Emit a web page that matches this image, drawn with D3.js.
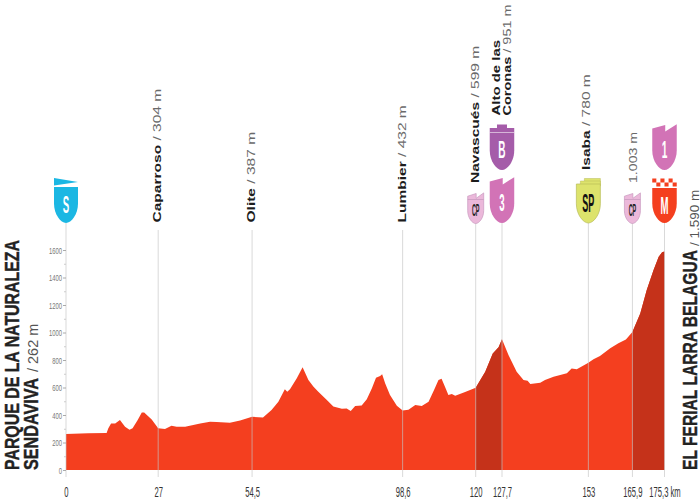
<!DOCTYPE html>
<html>
<head>
<meta charset="utf-8">
<script src="https://cdn.jsdelivr.net/npm/d3@7"></script>
<style>
  body { margin: 0; background: #fff; }
  svg { display: block; }
  text { font-family: "Liberation Sans", sans-serif; }
</style>
</head>
<body>
<svg id="chart" width="700" height="500"></svg>
<script>
// profile
var profileKm = [0, 6.5, 11.9, 12.4, 13.2, 14.4, 15.8, 17.3, 18.6, 19.5, 21, 22.2, 22.9, 25.1, 27, 29, 30.9, 32.4, 34.9, 39.3, 42.2, 44.1, 48, 51, 54.5, 57.7, 60.2, 62.2, 64.1, 64.8, 65.6, 67.6, 69.3, 71, 72.5, 73.9, 76.4, 78.3, 80.8, 82.2, 83.4, 84.7, 86.6, 88.1, 89.6, 90.8, 92, 92.6, 93.5, 94.9, 96.9, 98.6, 100.3, 102.3, 104.2, 106.2, 107.8, 109.1, 110, 111, 112, 113, 114, 116.9, 120, 122.8, 125, 126.7, 127.7, 129.6, 132, 134, 135.2, 136, 138.9, 140.3, 142.8, 146.7, 148.1, 149.6, 153, 154.5, 156.4, 159.4, 161.8, 164, 165.9, 168.2, 170.1, 172.1, 173.6, 174.6, 175.3];
var profileElev = [262, 267, 269, 303, 339, 339, 364, 315, 293, 303, 364, 419, 419, 368, 304, 298, 322, 315, 315, 339, 351, 349, 344, 360, 387, 381, 436, 497, 587, 570, 587, 667, 747, 654, 606, 570, 509, 461, 446, 448, 429, 465, 470, 514, 594, 671, 684, 696, 630, 545, 468, 432, 439, 473, 465, 497, 582, 654, 664, 606, 545, 553, 540, 567, 599, 715, 848, 892, 951, 836, 715, 654, 650, 625, 635, 654, 679, 703, 739, 732, 780, 805, 829, 885, 921, 950, 1003, 1139, 1309, 1454, 1551, 1583, 1590];

var yTicks = [0, 200, 400, 600, 800, 1000, 1200, 1400, 1600];
var yMinorTicks = [100, 300, 500, 700, 900, 1100, 1300, 1500];
var kmTicks = [0, 27, 54.5, 98.6, 120, 127.7, 153, 165.9, 175.3];
var kmLabels = ["0", "27", "54,5", "98,6", "120", "127,7", "153", "165,9", "175,3 km"];
var climbs = [[120, 127.7], [165.9, 175.3]];

var placeKm = [27, 54.5, 98.6, 120, 153];
var placeNames = ["Caparroso", "Olite", "Lumbier", "Navascués", "Isaba"];
var placeAlts = ["304 m", "387 m", "432 m", "599 m", "780 m"];

var svg = d3.select("#chart");
var x = d3.scaleLinear().domain([0, 175.3]).range([66, 664.5]);
var y = d3.scaleLinear().domain([0, 1600]).range([470, 250]);

var red = "#f43f1f", dark = "#c5321a", pinkCat = "#d273b6", pinkCp = "#ebb8da", purple = "#a55ca9", lime = "#dde36c";

var area = d3.area()
    .x(function(d, i) { return x(profileKm[i]); })
    .y0(y(0))
    .y1(function(d) { return y(d); });

svg.append("clipPath").attr("id", "profile-clip")
    .append("path").attr("d", area(profileElev));

// the red profile
svg.append("path").attr("d", area(profileElev)).attr("fill", red);

// darker climb sections
svg.append("g").attr("clip-path", "url(#profile-clip)")
  .selectAll("rect").data(climbs).enter().append("rect")
    .attr("x", function(d) { return x(d[0]); })
    .attr("width", function(d) { return x(d[1]) - x(d[0]); })
    .attr("y", 240).attr("height", 230)
    .attr("fill", dark);

// vertical guide lines, the ones without a badge start a bit lower
svg.append("g").selectAll("line").data(kmTicks).enter().append("line")
    .attr("x1", function(d) { return x(d); })
    .attr("x2", function(d) { return x(d); })
    .attr("y1", function(d) { return (d == 27 || d == 54.5 || d == 98.6) ? 230 : 223; })
    .attr("y2", 477)
    .attr("stroke", "#c4c4c4").attr("stroke-opacity", 0.65).attr("stroke-width", 1);

// y axis
var yAxis = svg.append("g").attr("transform", "translate(66,0)")
    .call(d3.axisLeft(y).tickValues(yTicks).tickSize(3).tickFormat(d3.format("d")));
yAxis.select(".domain").remove();
yAxis.selectAll("line").attr("stroke", "#aaa");
yAxis.selectAll("text")
    .attr("x", 0).attr("dy", "0.34em")
    .attr("transform", "translate(-4,0) scale(0.62,1)")
    .attr("font-size", 9.5).attr("fill", "#777");
svg.append("g").attr("transform", "translate(66,0)")
    .call(d3.axisLeft(y).tickValues(yMinorTicks).tickSize(2).tickFormat(""))
    .call(function(g) { g.select(".domain").remove(); })
    .selectAll("line").attr("stroke", "#ccc");

// x axis labels
var xAxis = svg.append("g").attr("transform", "translate(0,470)")
    .call(d3.axisBottom(x).tickValues(kmTicks).tickSize(0)
        .tickFormat(function(d, i) { return kmLabels[i]; }));
xAxis.select(".domain").remove();
xAxis.selectAll("text")
    .attr("y", 0).attr("dy", 0)
    .attr("transform", "translate(0,26.5) scale(0.51,1)")
    .attr("font-size", 15).attr("fill", "#333");

// vertical label, bold name then grey altitude, stretched sideways like the original type
function vlabel(px, py, name, alt, stretch) {
  var t = svg.append("text")
      .attr("transform", "translate(" + px + "," + py + ") rotate(-90) scale(" + (stretch || 1.35) + ",1)")
      .attr("font-size", 11.5);
  if (name) t.append("tspan").text(name).attr("font-weight", "bold").attr("fill", "#1c1c1c");
  if (alt) t.append("tspan").text(alt).attr("fill", "#6a6a6a");
}

placeKm.forEach(function(km, i) {
  var bottom = km == 120 ? 183 : km == 153 ? 170 : 222.5;
  vlabel(x(km) + (km == 153 ? 2 : 3), bottom, placeNames[i], " / " + placeAlts[i]);
});
vlabel(x(165.9) + 5, 183, "", "1.003 m", 1.23);
vlabel(x(127.7) - 1.5, 115.5, "Alto de las", "", 1.3);
vlabel(x(127.7) + 9.5, 115.5, "Coronas", " / 951 m", 1.26);

// big condensed titles
function vtitle(px, py, str, len) {
  svg.append("text")
      .attr("transform", "translate(" + px + "," + py + ") rotate(-90)")
      .attr("font-size", 20.5).attr("font-weight", "bold").attr("fill", "#222")
      .attr("stroke", "#222").attr("stroke-width", 0.4)
      .attr("textLength", len).attr("lengthAdjust", "spacingAndGlyphs")
      .text(str);
}
function valt(px, py, str, size) {
  svg.append("text")
      .attr("transform", "translate(" + px + "," + py + ") rotate(-90)")
      .attr("font-size", size).attr("fill", "#555").text(str);
}
vtitle(18.8, 470, "PARQUE DE LA NATURALEZA", 230);
vtitle(38, 470, "SENDAVIVA", 92);
valt(38, 372, "/ 262 m", 14.5);
vtitle(696.6, 470, "EL FERIAL LARRA BELAGUA", 220);
valt(698.5, 246, "/ 1.590 m", 13.5);

// badges
function shield(cx, top, bottom, w) {
  var l = cx - w / 2, r = cx + w / 2, h = w * 0.8, b = bottom - h;
  return "M" + l + "," + top + "L" + r + "," + top + "L" + r + "," + b +
    "C" + r + "," + (b + h * 0.55) + " " + (cx + w * 0.22) + "," + bottom + " " + cx + "," + bottom +
    "C" + (cx - w * 0.22) + "," + bottom + " " + l + "," + (b + h * 0.55) + " " + l + "," + b + "Z";
}

function badge(km, top, bottom, w, fill, stroke) {
  svg.append("path").attr("d", shield(x(km), top, bottom, w)).attr("fill", fill)
      .attr("stroke", stroke || "none").attr("stroke-width", 0.7);
}

function letter(km, base, size, stretch, str, fill) {
  svg.append("text")
      .attr("transform", "translate(" + x(km) + "," + base + ") scale(" + stretch + ",1)")
      .attr("text-anchor", "middle").attr("font-size", size).attr("font-weight", "bold")
      .attr("fill", fill).text(str);
}

// two slanted notches on top of a category badge
function teeth(km, y0, w, rise, fill, stroke) {
  var l = x(km) - w / 2, m = x(km) + w * 0.03, r = x(km) + w / 2;
  svg.append("path").attr("fill", fill).attr("stroke", stroke || "none").attr("stroke-width", 0.7)
     .attr("d", "M" + l + "," + y0 + "V" + (y0 - rise * 0.55) + "L" + m + "," + (y0 - rise) +
       "V" + (y0 - rise * 0.2) + "L" + r + "," + (y0 - rise * 1.1) + "V" + y0 + "Z");
  svg.append("line").attr("x1", l).attr("x2", r).attr("y1", y0 + 1).attr("y2", y0 + 1)
     .attr("stroke", "#fff").attr("stroke-opacity", 0.45);
}

// start
badge(0, 187, 223, 24, "#1bb7e3");
svg.append("path").attr("fill", "#1bb7e3")
    .attr("d", "M" + (x(0) - 12) + ",178L" + (x(0) + 12) + ",182L" + (x(0) - 12) + ",185.5Z");
letter(0, 213, 24, 0.4, "S", "#fff");

// Navascués
teeth(120, 199.5, 16, 6, pinkCp, "#c99abf");
badge(120, 199.5, 223.5, 16, pinkCp, "#c99abf");
letter(120, 215.5, 17, 0.32, "CP", "#222");

// Alto de las Coronas, third category
teeth(127.7, 186, 24.5, 8, pinkCat);
badge(127.7, 186, 223, 24.5, pinkCat);
letter(127.7, 211, 23, 0.42, "3", "#fff");

// bonus
var bx = x(127.7);
svg.append("path").attr("fill", purple)
    .attr("d", "M" + (bx - 12.25) + ",133V128H" + (bx - 5) + "V124.5H" + (bx + 5) + "V128H" + (bx + 12.25) + "V133Z");
badge(127.7, 133, 170, 24.5, purple);
svg.append("line").attr("x1", bx - 12.25).attr("x2", bx + 12.25).attr("y1", 132.5).attr("y2", 132.5)
    .attr("stroke", "#fff").attr("stroke-opacity", 0.55);
letter(127.7, 158, 24, 0.42, "B", "#fff");

// Isaba, sprint
var sx = x(153);
svg.append("path").attr("fill", lime).attr("stroke", "#b8bb58").attr("stroke-width", 0.5)
    .attr("d", "M" + (sx - 4) + ",184V178.5H" + (sx + 12) + "V184Z");
svg.append("path").attr("fill", lime).attr("stroke", "#b8bb58").attr("stroke-width", 0.5)
    .attr("d", "M" + (sx - 8) + ",186V181H" + (sx + 12) + "V186Z");
badge(153, 184, 223, 24, lime, "#b8bb58");
letter(153, 212, 25, 0.36, "SP", "#111");

// 165,9
teeth(165.9, 199.5, 16, 6, pinkCp, "#c99abf");
badge(165.9, 199.5, 223.5, 16, pinkCp, "#c99abf");
letter(165.9, 215.5, 17, 0.32, "CP", "#222");

// first category
teeth(175.3, 133, 24.5, 8, pinkCat);
badge(175.3, 133, 170, 24.5, pinkCat);
letter(175.3, 158, 24, 0.42, "1", "#fff");

// finish, red shield under a chequered strip
badge(175.3, 188, 223, 24.5, red);
letter(175.3, 213.5, 24, 0.4, "M", "#fff");
var cols = d3.range(6), rows = d3.range(2);
rows.forEach(function(r) {
  cols.forEach(function(c) {
    if ((r + c) % 2 == 0) {
      svg.append("rect").attr("x", x(175.3) - 12.25 + c * 4.08).attr("y", 178.5 + r * 4)
         .attr("width", 4.08).attr("height", 4).attr("fill", red);
    }
  });
});
</script>
</body>
</html>
